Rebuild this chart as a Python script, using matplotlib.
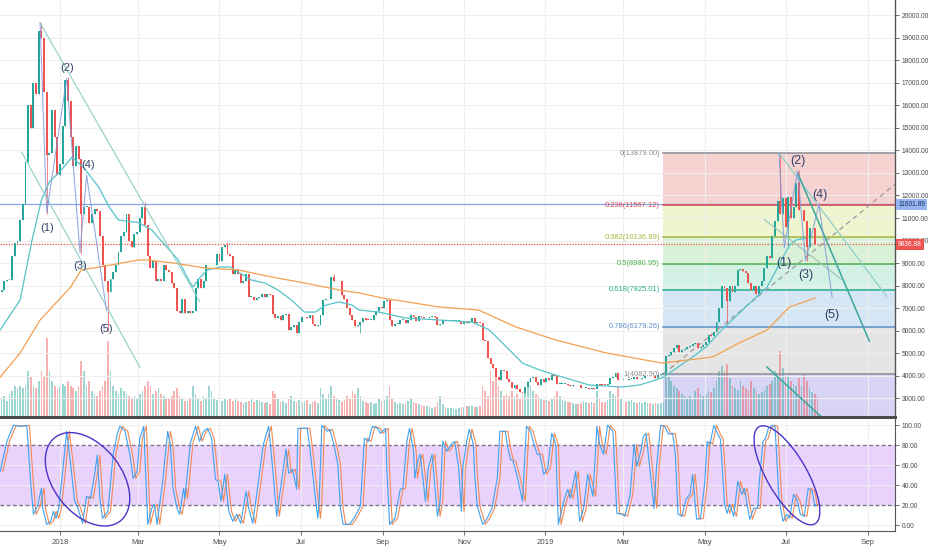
import numpy as np
import pandas as pd
import matplotlib
matplotlib.use("Agg")
import matplotlib.pyplot as plt
import matplotlib.dates as mdates
from matplotlib.patches import Ellipse, Rectangle
from matplotlib.transforms import IdentityTransform
from matplotlib.ticker import FuncFormatter

plt.rcParams["font.family"] = ["Liberation Sans", "DejaVu Sans"]

# BTC/USD, 2-day candles starting 2017-11-17 (open = previous close)
start = pd.Timestamp("2017-11-17")
first_open = 7700
closes = [
    7800, 8200, 8250, 8250, 9300, 9900, 10000,                      # Nov 17
    10900, 11600, 13500, 16000, 15000, 17000, 16500, 19300, 19000,  # Dec 17
    16600, 13800, 13900, 15800, 14600, 12900, 13400,
    15100, 17100, 16200, 14600, 13300, 14200, 13600, 11200, 11500,  # Jan 18
    11500, 10800, 11200, 11400, 11300, 10200,
    8900, 8200, 7700, 8300, 8600, 8900, 9500, 10200, 10400, 11200,  # Feb
    10000, 9700, 10300, 10400,
    11000, 11500, 10700, 9300, 8800, 9100, 8200, 8300, 8200, 8900,  # Mar
    8700, 8600, 8100, 7900, 6900, 6800,
    7400, 6800, 6900, 6800, 6900, 7900, 8300, 7900, 8200, 8900,     # Apr
    8900, 8900, 8900, 9400, 9100,
    9700, 9800, 9400, 9300, 8500, 8700, 8500, 8100, 8200, 8500,     # May
    7500, 7500, 7350, 7450, 7500,
    7650, 7500, 7650, 7600, 6750, 6550, 6650, 6500, 6700, 6750,     # Jun
    6050, 6150, 6250, 5900, 6400,
    6600, 6600, 6550, 6700, 6300, 6200, 6250, 6700, 7350, 7400,     # Jul
    7400, 8400, 8200, 8200, 8200, 7600,
    7400, 7000, 6700, 6500, 6200, 6250, 6400, 6580, 6500, 6480,     # Aug
    6500, 6700, 6900, 7050, 7000,
    7300, 7350, 6500, 6200, 6300, 6300, 6500, 6500, 6350, 6500,     # Sep
    6700, 6600, 6450, 6650, 6600,
    6550, 6550, 6600, 6650, 6600, 6250, 6300, 6500, 6450, 6450,     # Oct
    6450, 6450, 6450, 6450, 6300, 6400,
    6350, 6400, 6550, 6350, 6400, 6350, 5600, 5550, 4800, 4550,     # Nov
    4350, 3950, 3800, 4250, 4200,
    3850, 3750, 3450, 3600, 3400, 3300, 3250, 3500, 3750, 3900,     # Dec
    3950, 3750, 3600, 3850, 3750,
    3900, 3800, 4050, 4000, 3650, 3650, 3650, 3650, 3600, 3550,     # Jan 19
    3580, 3600, 3580, 3450, 3480, 3480,
    3420, 3470, 3400, 3650, 3620, 3610, 3600, 3650, 3900, 3950,     # Feb
    4120, 3800, 3820, 3820,
    3800, 3870, 3880, 3940, 3860, 3870, 3930, 3990, 4000, 3980,     # Mar
    4010, 3920, 4050, 4100, 4110, 4900,
    4950, 5050, 5250, 5350, 5070, 5150, 5200, 5300, 5330, 5400,     # Apr
    5450, 5250, 5280, 5350,
    5500, 5800, 5750, 5950, 6400, 7000, 8000, 7900, 7300, 8000,     # May
    7700, 8000, 8700, 8750, 8650, 8550,
    8100, 7800, 8000, 7650, 8000, 8200, 8800, 9300, 9250, 10200,    # Jun
    10850, 11750, 11200, 11900, 10600,
    11950, 11000, 11500, 12550, 11350, 11350, 10850, 9700, 10550,   # Jul
    10550, 9850, 9837,
]
volumes = [
    18, 20, 15, 22, 25, 30, 28,
    30, 28, 30, 45, 40, 30, 28, 35, 45, 40, 78, 45, 35, 30, 28, 30,
    32, 30, 35, 30, 28, 25, 30, 55, 45, 30, 35, 25, 22, 20, 25,
    30, 35, 75, 45, 30, 25, 22, 28, 25, 22, 20, 18, 20, 18,
    22, 25, 30, 35, 30, 22, 25, 28, 22, 20, 18, 18, 20, 25, 28, 20,
    18, 15, 15, 18, 30, 22, 18, 15, 20, 18, 30, 25, 18, 16, 15,
    15, 18, 16, 18, 15, 18, 15, 14, 13, 14, 15, 18, 14, 16, 15,
    14, 13, 14, 12, 25, 22, 18, 14, 15, 13, 18, 20, 15, 14, 16,
    14, 15, 16, 12, 14, 15, 13, 28, 22, 18, 22, 30, 20, 18, 16, 14,
    16, 20, 18, 25, 22, 28, 20, 15, 14, 13, 14, 12, 13, 18, 15,
    16, 20, 30, 18, 14, 12, 13, 12, 13, 15, 18, 14, 13, 12, 11,
    10, 10, 9, 8, 9, 14, 20, 12, 9, 8, 8, 8, 7, 8, 9, 9,
    10, 10, 10, 9, 9, 10, 30, 25, 20, 45, 35, 40, 30, 25, 20,
    22, 20, 25, 20, 22, 18, 20, 25, 35, 30, 25, 22, 20, 18, 16,
    16, 15, 18, 20, 25, 20, 16, 15, 14, 14, 13, 12, 12, 13, 15, 14,
    13, 14, 13, 25, 18, 14, 14, 16, 25, 22, 20, 30, 18, 15,
    14, 15, 16, 14, 13, 14, 13, 14, 13, 13, 12, 13, 12, 13, 14, 55,
    40, 35, 30, 28, 25, 22, 20, 18, 20, 18, 25, 28, 22, 20,
    22, 25, 24, 28, 35, 45, 50, 45, 52, 38, 30, 28, 26, 35, 30, 28,
    26, 35, 28, 25, 22, 24, 26, 30, 32, 35, 45, 40, 65, 48, 40,
    40, 35, 32, 30, 38, 30, 42, 35, 28, 24, 22, 20,
]
high_wicks = {"2017-12-17": 19650, "2018-01-06": 17250, "2018-03-05": 11700,
              "2018-05-06": 9950, "2018-07-25": 8500, "2019-06-26": 13880,
              "2019-07-10": 13150}
low_wicks = {"2017-12-21": 11200, "2018-01-16": 9400, "2018-02-05": 6000,
             "2018-08-14": 5900, "2019-05-17": 6250, "2019-07-02": 9650,
             "2019-07-16": 9100}

# moving averages
ma_fast = [
    ("2017-11-17", 6040), ("2017-12-02", 7370), ("2017-12-11", 10030), ("2017-12-18", 11800),
    ("2017-12-24", 12600), ("2018-01-02", 13130), ("2018-01-10", 13700), ("2018-01-19", 13220),
    ("2018-01-30", 12380), ("2018-02-07", 11490), ("2018-02-14", 10910), ("2018-03-01", 10800),
    ("2018-03-11", 10470), ("2018-03-21", 9800), ("2018-03-31", 9140), ("2018-04-07", 8340),
    ("2018-04-11", 7940), ("2018-04-16", 8340), ("2018-04-22", 8700), ("2018-05-02", 8830),
    ("2018-05-09", 8830), ("2018-05-15", 8610), ("2018-05-25", 8250), ("2018-06-04", 8120),
    ("2018-06-14", 7810), ("2018-06-24", 7370), ("2018-07-04", 6830), ("2018-07-12", 6830),
    ("2018-07-20", 7140), ("2018-07-30", 7280), ("2018-08-09", 7140), ("2018-08-14", 6920),
    ("2018-08-29", 6830), ("2018-09-18", 6570), ("2018-10-13", 6480), ("2018-11-07", 6390),
    ("2018-11-20", 6040), ("2018-12-03", 5280), ("2018-12-15", 4570), ("2018-12-28", 4260),
    ("2019-01-09", 4040), ("2019-02-03", 3600), ("2019-02-28", 3510), ("2019-03-13", 3600),
    ("2019-03-30", 3910), ("2019-04-19", 4710), ("2019-05-02", 5280), ("2019-05-14", 6040),
    ("2019-06-01", 7060), ("2019-06-17", 7940), ("2019-06-24", 8700), ("2019-06-29", 9270),
    ("2019-07-04", 9800), ("2019-07-09", 10030), ("2019-07-16", 10100),
]
ma_slow = [
    ("2017-11-17", 3950), ("2017-12-02", 5020), ("2017-12-17", 6480), ("2017-12-24", 6920),
    ("2018-01-09", 7940), ("2018-01-17", 8700), ("2018-01-31", 8830), ("2018-03-01", 9140),
    ("2018-03-07", 9140), ("2018-03-27", 9010), ("2018-04-21", 8780), ("2018-05-15", 8700),
    ("2018-06-09", 8390), ("2018-07-04", 8120), ("2018-07-30", 7810), ("2018-08-14", 7680),
    ("2018-09-01", 7450), ("2018-10-13", 7060), ("2018-11-12", 6920), ("2018-12-10", 6170),
    ("2019-01-09", 5590), ("2019-02-16", 5020), ("2019-03-30", 4570), ("2019-04-19", 4710),
    ("2019-05-07", 4840), ("2019-05-27", 5460), ("2019-06-17", 6040), ("2019-07-04", 7060),
    ("2019-07-23", 7450),
]

# fibonacci retracement
fib_start = "2019-03-31"
fib_end = "2019-10-20"
fib_names = ["0", "0.236", "0.382", "0.5", "0.618", "0.786", "1"]
fib_prices = [13879.00, 11567.12, 10136.89, 8980.95, 7825.01, 6179.26, 4082.90]
fib_colors = ["#8a8d96", "#d84a4f", "#a6b83a", "#45b04c", "#2aab92", "#5b8fc9", "#8a8d96"]
fib_fills = ["#f6d2d1", "#eef5cf", "#d9f1d6", "#d4f1e6", "#d5e7f5", "#e5e5e5", "#d8d4f6"]

# elliott waves (date, price) and labels
wave_2018 = [("2017-12-17", 19650), ("2017-12-22", 11240), ("2018-01-06", 17200),
             ("2018-01-16", 9470), ("2018-01-21", 12900), ("2018-02-05", 6900)]
wave_2019 = [("2019-06-26", 13879), ("2019-06-30", 9690), ("2019-07-10", 13100),
             ("2019-07-16", 9100), ("2019-07-26", 11601.89), ("2019-08-05", 7500)]
wave_names = ["(1)", "(2)", "(3)", "(4)", "(5)"]

trend_lines = [
    ("2017-12-17", 19650, "2018-04-16", 7300, "#8fcfc8", 0.8),
    ("2017-12-03", 13930, "2018-03-02", 4390, "#8fcfc8", 0.8),
    ("2019-06-26", 13879, "2019-09-15", 7530, "#8fcfc8", 0.9),
    ("2019-07-10", 13000, "2019-09-02", 5540, "#3aa89c", 1.1),
    ("2019-06-15", 10930, "2019-08-12", 8280, "#9cc6b6", 0.8),
    ("2019-06-17", 4390, "2019-07-27", 2230, "#3aa89c", 1.1),
]

level_line = 11601.89
last_price = 9836.88

# stochastic RSI %K turning points: (days since start, value)
stoch_k = [
    (0, 54), (5, 84), (10, 100), (15, 99), (20, 100), (23, 41), (25, 11), (28, 19), (31, 37),
    (32, 17), (35, 1), (38, 4), (40, 14), (42, 7), (44, 17), (47, 54), (50, 94), (53, 61),
    (56, 24), (58, 19), (62, 2), (65, 29), (68, 27), (71, 51), (73, 70), (75, 27), (77, 7),
    (81, 14), (85, 71), (88, 91), (90, 99), (94, 94), (98, 67), (100, 47), (103, 54), (105, 87),
    (108, 99), (109, 67), (111, 1), (114, 17), (116, 21), (118, 1), (122, 41), (126, 94),
    (128, 81), (130, 37), (133, 17), (135, 11), (138, 37), (139, 27), (143, 82), (147, 99),
    (150, 84), (153, 94), (156, 97), (159, 87), (162, 46), (164, 44), (166, 24), (169, 51),
    (172, 14), (175, 4), (178, 11), (181, 2), (185, 34), (187, 17), (190, 2), (194, 41),
    (198, 81), (202, 99), (205, 57), (208, 9), (211, 37), (213, 57), (215, 76), (217, 52),
    (220, 56), (223, 36), (224, 97), (228, 97), (231, 97), (233, 77), (236, 41), (239, 7),
    (240, 24), (242, 100), (246, 94), (248, 96), (251, 81), (254, 61), (256, 17), (258, 1),
    (263, 1), (267, 9), (271, 19), (274, 87), (277, 84), (280, 99), (284, 97), (286, 92),
    (290, 97), (291, 54), (293, 1), (297, 7), (301, 36), (303, 37), (306, 84), (308, 97),
    (311, 74), (312, 47), (314, 64), (316, 71), (320, 24), (322, 57), (325, 71), (329, 9),
    (331, 24), (333, 84), (336, 74), (340, 82), (342, 84), (345, 57), (347, 14), (348, 57),
    (351, 84), (353, 96), (356, 81), (357, 51), (359, 19), (363, 1), (366, 6), (370, 17),
    (374, 47), (376, 94), (380, 94), (382, 77), (384, 66), (386, 64), (389, 49), (393, 24),
    (396, 99), (399, 94), (401, 84), (404, 71), (406, 71), (409, 51), (412, 57), (415, 92),
    (418, 81), (420, 1), (424, 24), (427, 36), (429, 27), (433, 54), (436, 4), (439, 17),
    (442, 51), (446, 29), (449, 99), (451, 81), (454, 71), (457, 100), (461, 94), (464, 12),
    (468, 11), (470, 9), (474, 31), (477, 81), (479, 59), (482, 74), (484, 89), (486, 92),
    (489, 54), (492, 17), (494, 61), (497, 100), (500, 99), (503, 91), (506, 92), (508, 71),
    (510, 11), (513, 9), (516, 26), (519, 31), (521, 51), (524, 6), (527, 7), (530, 41),
    (532, 84), (534, 81), (537, 100), (540, 91), (542, 86), (545, 21), (547, 12), (549, 21),
    (552, 9), (555, 44), (558, 31), (560, 37), (562, 21), (564, 6), (567, 17), (570, 17),
    (571, 41), (574, 84), (576, 87), (578, 97), (581, 100), (583, 99), (586, 27), (589, 4),
    (592, 11), (594, 7), (597, 31), (600, 24), (602, 11), (605, 9), (608, 37), (611, 34),
    (613, 19), (614, 21),
]

UP, DOWN = "#26a69a", "#ef5350"
TXT = "#4a4a4a"
AXFS = 4.8

fig = plt.figure(figsize=(9.32, 5.5), dpi=100)
ax = fig.add_axes([0, 134 / 550, 895 / 932, 416 / 550])
ax2 = fig.add_axes([0, 19 / 550, 895 / 932, 114 / 550])
vol = ax.twinx()
vol.set_zorder(ax.get_zorder() - 1)
ax.patch.set_visible(False)

x_left = start - pd.Timedelta(hours=4)
x_right = start + pd.Timedelta(days=673.3)
for a in (ax, ax2):
    a.set_xlim(x_left, x_right)
ax.set_ylim(2224, 20665)
ax2.set_ylim(-5.7, 108.3)

day = pd.Timedelta(days=1)
n = len(closes)
t = pd.date_range(start, periods=n, freq="2D") + day
opens = [first_open] + closes[:-1]
body_top = [max(o, c) for o, c in zip(opens, closes)]
body_bot = [min(o, c) for o, c in zip(opens, closes)]
highs = list(body_top)
lows = list(body_bot)
for k, v in high_wicks.items():
    i = (pd.Timestamp(k) - start).days // 2
    highs[i] = max(highs[i], v)
for k, v in low_wicks.items():
    i = (pd.Timestamp(k) - start).days // 2
    lows[i] = min(lows[i], v)
colors = [UP if c >= o else DOWN for o, c in zip(opens, closes)]

# fib background bands (behind volume)
f0 = mdates.date2num(pd.Timestamp(fib_start))
f1 = mdates.date2num(pd.Timestamp(fib_end))
bands = fib_prices + [0]
for i in range(len(fib_prices)):
    vol.add_patch(Rectangle((f0, bands[i + 1]), f1 - f0, bands[i] - bands[i + 1],
                            transform=ax.transData, fc=fib_fills[i], ec="none", zorder=0))

vol.bar(t, volumes, width=1.3, color=colors, alpha=0.45, zorder=1)
vol.set_ylim(0, max(volumes) * 5.3)
vol.set_yticks([])
for s in vol.spines.values():
    s.set_visible(False)

# grid
locator = mdates.MonthLocator(bymonth=[1, 3, 5, 7, 9, 11])
for a in (ax, ax2):
    a.xaxis.set_major_locator(locator)
    a.grid(True, color="#efefef", lw=0.8, zorder=0)
    a.set_axisbelow(True)
ax.set_yticks(np.arange(3000, 20001, 1000))

# horizontal levels
ax.axhline(level_line, color="#86a6ee", lw=0.9, zorder=2)
ax.axhline(last_price, color=DOWN, lw=0.9, ls=(0, (1, 1.2)), zorder=2)

# fib lines and labels
for name, p, c in zip(fib_names, fib_prices, fib_colors):
    ax.plot([pd.Timestamp(fib_start), pd.Timestamp(fib_end)], [p, p], color=c, lw=1.1, zorder=2)
    ax.annotate(f"{name}({p:.2f})", (pd.Timestamp(fib_start), p), xytext=(-2.5, 0),
                textcoords="offset points", ha="right", va="center", fontsize=5.4, color=c, zorder=6)
ax.plot([pd.Timestamp(fib_start), pd.Timestamp(fib_end)], [fib_prices[-1], fib_prices[0]],
        color="#9a9a9a", lw=0.9, ls=(0, (4, 3)), zorder=2)

# candles
ax.vlines(t, lows, highs, colors=colors, lw=0.5, zorder=3)
ax.bar(t, [max(h - l, 25) for h, l in zip(body_top, body_bot)], bottom=body_bot,
       width=1.45, color=colors, zorder=3)

# moving averages
ax.plot(pd.to_datetime([d for d, _ in ma_fast]), [v for _, v in ma_fast], color="#55c3c9", lw=0.9, zorder=4)
ax.plot(pd.to_datetime([d for d, _ in ma_slow]), [v for _, v in ma_slow], color="#f5a050", lw=0.9, zorder=4)

# trend lines
for d0, p0, d1, p1, c, w in trend_lines:
    ax.plot([pd.Timestamp(d0), pd.Timestamp(d1)], [p0, p1], color=c, lw=w, zorder=5)

# elliott waves
offsets = [(0, -11), (0, 7), (0, -10), (1, 7), (0, -13)]
for wave, fs in ((wave_2018, 8), (wave_2019, 9)):
    wd = pd.to_datetime([d for d, _ in wave])
    wp = [p for _, p in wave]
    ax.plot(wd, wp, color="#7c97dc", lw=0.8, alpha=0.8, zorder=5)
    for name, d, p, off in zip(wave_names, wd[1:], wp[1:], offsets):
        ax.annotate(name, (d, p), xytext=off, textcoords="offset points", ha="center",
                    va="center", fontsize=fs, color="#34426a", zorder=7)

# main axis styling
ax.yaxis.tick_right()
ax.yaxis.set_major_formatter(FuncFormatter(lambda v, p: f"{v:.2f}"))
ax.tick_params(axis="y", labelsize=AXFS, colors="#555555", labelcolor=TXT, length=3, pad=2, width=0.6)
ax.tick_params(axis="x", length=0, labelbottom=False)
for side in ("top", "left", "bottom"):
    ax.spines[side].set_visible(False)
ax.spines["right"].set_color("#555555")
ax.spines["right"].set_linewidth(1.0)

for p, fc, tc in ((level_line, "#94b5f2", "#1d2f55"), (last_price, DOWN, "white")):
    ax.annotate(f"{p:.2f}", (1, p), xycoords=("axes fraction", "data"), xytext=(2.2, 0),
                textcoords="offset points", ha="left", va="center", fontsize=AXFS, color=tc,
                bbox=dict(boxstyle="square,pad=0.3", fc=fc, ec="none"), annotation_clip=False, zorder=8)

# stochastic RSI pane
ax2.axhspan(20, 80, color="#e9d2fc", zorder=0.5)
for lvl in (20, 80):
    ax2.axhline(lvl, color="#76708a", lw=0.9, ls=(0, (3, 2)), zorder=1)
kd = start + pd.to_timedelta([d for d, _ in stoch_k], unit="D")
kv = [v for _, v in stoch_k]
ax2.plot(kd + 2 * day, kv, color="#f08a55", lw=0.8, zorder=2)
ax2.plot(kd, kv, color="#3ea2f2", lw=0.8, zorder=3)
ax2.set_yticks([0, 20, 40, 60, 80, 100])
ax2.yaxis.tick_right()
ax2.yaxis.set_major_formatter(FuncFormatter(lambda v, p: f"{v:.2f}"))
ax2.tick_params(axis="y", labelsize=AXFS, colors="#555555", labelcolor=TXT, length=3, pad=2, width=0.6)
ax2.xaxis.set_major_formatter(FuncFormatter(
    lambda v, p: str(mdates.num2date(v).year) if mdates.num2date(v).month == 1 else mdates.num2date(v).strftime("%b")))
ax2.tick_params(axis="x", labelsize=5.6, colors="#555555", labelcolor=TXT, length=3, pad=3, width=0.6)
ax2.spines["left"].set_visible(False)
ax2.spines["top"].set_color("#4a4a4a")
ax2.spines["top"].set_linewidth(2.2)
for side in ("right", "bottom"):
    ax2.spines[side].set_color("#555555")

# ellipses around the stochastic swings
for d, v, a_px, b_px, ang in ((65.7, 46, 53, 34, -52), (592, 50, 56, 20, -60)):
    cx, cy = ax2.transData.transform((mdates.date2num(start + pd.Timedelta(days=d)), v))
    ax2.add_patch(Ellipse((cx, cy), 2 * a_px, 2 * b_px, angle=ang, transform=IdentityTransform(),
                          fill=False, ec="#4a34c8", lw=1.0, clip_on=False, zorder=5))

fig.savefig("out.png", dpi=100)
